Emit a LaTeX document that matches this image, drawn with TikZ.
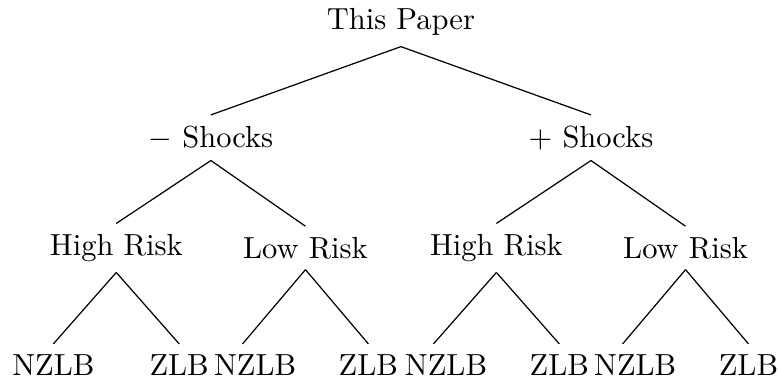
\documentclass[tikz,border=0pt]{standalone}
\usepackage{amssymb}
\usepackage{amsmath}
\usepackage{tikz}
\usetikzlibrary{positioning, calc}

\begin{document}
\begin{tikzpicture}
		\useasboundingbox (-4.62,0.257) rectangle (4.345,-4.135);

		\node (paper) at (0,0) {This Paper};

		\node (neg) at (-2.19,-1.33) {$-$ Shocks};
		\node (pos) at (2.19,-1.33) {$+$ Shocks};

		\node (neghi) at (-3.28,-2.60) {High Risk};
		\node (neglo) at (-1.10,-2.60) {Low Risk};
		\node (poshi) at (1.10,-2.60) {High Risk};
		\node (poslo) at (3.28,-2.60) {Low Risk};

		\node (neghin) at (-4.005,-3.95) {NZLB};
		\node (neghiz) at (-2.555,-3.95) {ZLB};
		\node (neglon) at (-1.68,-3.95) {NZLB};
		\node (negloz) at (-0.375,-3.95) {ZLB};
		\node (poshin) at (0.52,-3.95) {NZLB};
		\node (poshiz) at (1.825,-3.95) {ZLB};
		\node (poslon) at (2.70,-3.95) {NZLB};
		\node (posloz) at (4.005,-3.95) {ZLB};

		\begin{scope}[every path/.style={draw=black}]

			\path (paper.south) edge (neg.north);
			\path (paper.south) edge (pos.north);
			\path (neg.south) edge (neghi.north);
			\path (neg.south) edge (neglo.north);
			\path (pos.south) edge (poshi.north);
			\path (pos.south) edge (poslo.north);
			\path (neghi.south) edge (neghin.north);
			\path (neghi.south) edge (neghiz.north);
			\path (neglo.south) edge ([xshift=-0.145cm]neglon.north);
			\path (neglo.south) edge (negloz.north);
			\path (poshi.south) edge ([xshift=-0.145cm]poshin.north);
			\path (poshi.south) edge (poshiz.north);
			\path (poslo.south) edge ([xshift=-0.145cm]poslon.north);
			\path (poslo.south) edge (posloz.north);

		\end{scope}

	\end{tikzpicture}
\end{document}
